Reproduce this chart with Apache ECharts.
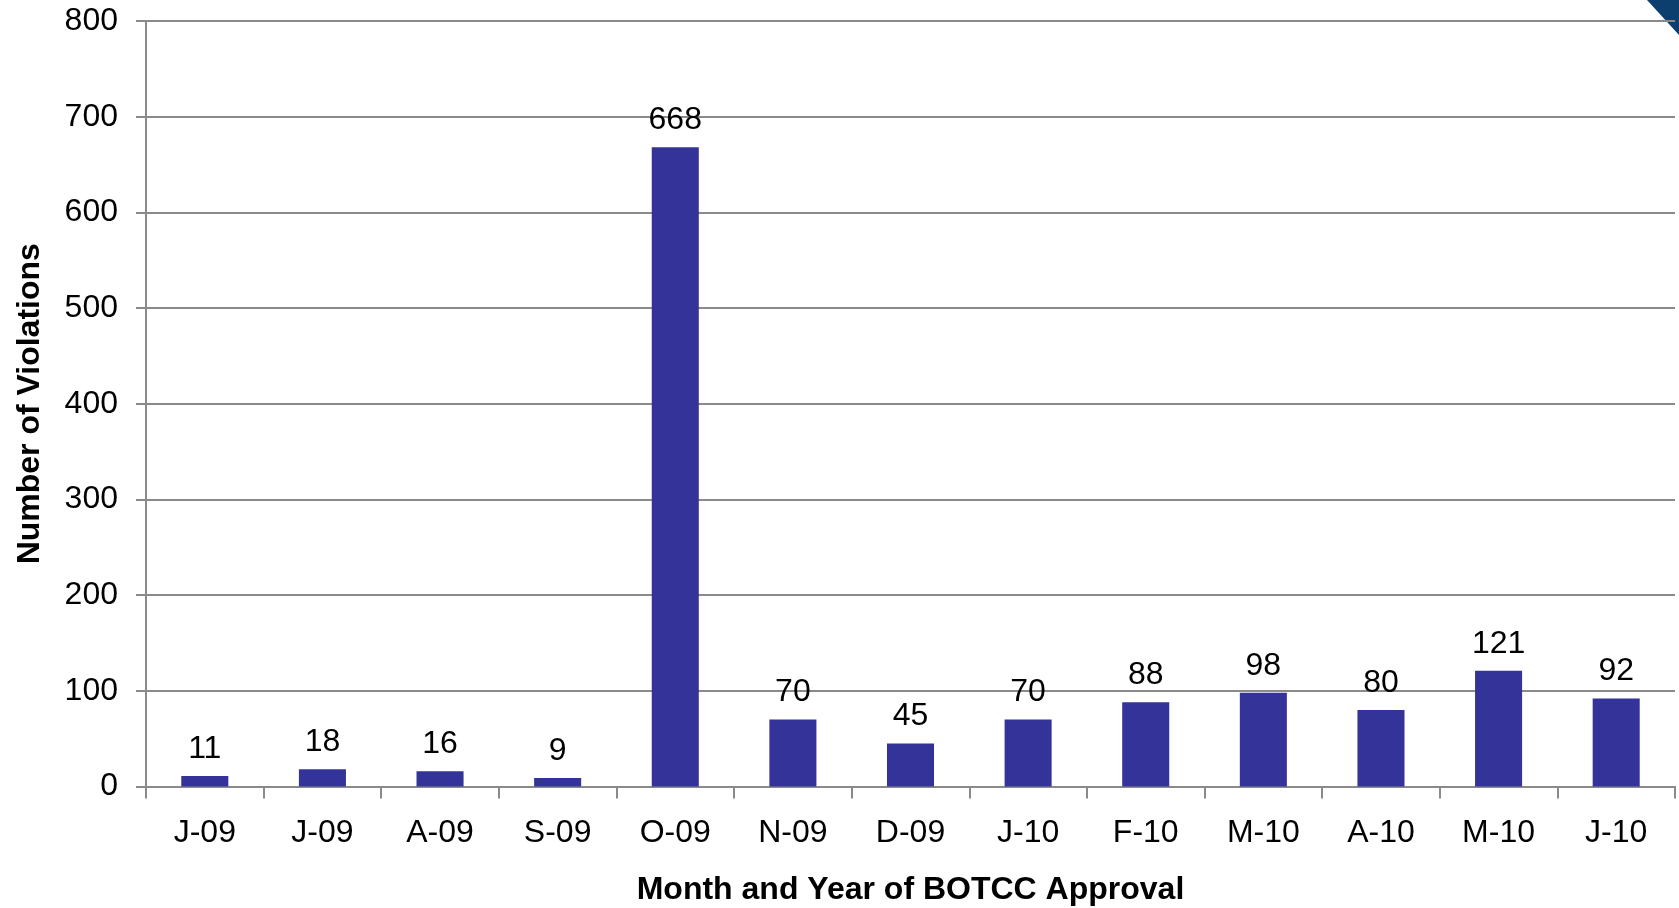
<!DOCTYPE html>
<html>
<head>
<meta charset="utf-8">
<script src="https://cdn.jsdelivr.net/npm/echarts@6/dist/echarts.min.js"></script>
<style>
html,body{margin:0;padding:0;background:#fff;}
#chart{width:1679px;height:908px;}
</style>
</head>
<body>
<div id="chart"></div>
<script>
const categories = ['J-09','J-09','A-09','S-09','O-09','N-09','D-09','J-10','F-10','M-10','A-10','M-10','J-10'];
const violations = [11,18,16,9,668,70,45,70,88,98,80,121,92];
const yTicks = {min:0, max:800, interval:100};
const xTitle = 'Month and Year of BOTCC Approval';
const yTitle = 'Number of Violations';

const font = 'Liberation Sans, Arial, sans-serif';
const gray = '#8a8a8a';
const chart = echarts.init(document.getElementById('chart'));
chart.setOption({
  animation:false,
  backgroundColor:'#fff',
  grid:{left:146, right:4, top:21, bottom:121.5, containLabel:false, outerBoundsMode:'none'},
  graphic:[{
    type:'polygon',
    shape:{points:[[1647,0],[1679,0],[1679,35]]},
    style:{fill:'#0d3f6e'}
  }],
  xAxis:{
    type:'category',
    data:categories,
    boundaryGap:true,
    axisLine:{lineStyle:{color:gray,width:2}},
    axisTick:{show:true,alignWithLabel:false,length:12,lineStyle:{color:gray,width:2}},
    axisLabel:{color:'#000',fontSize:32,fontFamily:font,margin:31,interval:0},
    name:xTitle,
    nameLocation:'middle',
    nameGap:88,
    nameTextStyle:{color:'#000',fontSize:32,fontWeight:'bold',fontFamily:font}
  },
  yAxis:{
    type:'value',
    min:yTicks.min, max:yTicks.max, interval:yTicks.interval,
    axisLine:{show:true,lineStyle:{color:gray,width:2}},
    axisTick:{show:true,length:10,lineStyle:{color:gray,width:2}},
    axisLabel:{color:'#000',fontSize:32,fontFamily:font,margin:28},
    splitLine:{show:true,lineStyle:{color:gray,width:2}},
    name:yTitle,
    nameLocation:'middle',
    nameGap:100,
    nameTextStyle:{color:'#000',fontSize:32,fontWeight:'bold',fontFamily:font}
  },
  series:[{
    type:'bar',
    data:violations,
    barWidth:'40%',
    itemStyle:{color:'#333399'},
    label:{show:true,position:'top',distance:11,color:'#000',fontSize:32,fontFamily:font}
  }]
});
</script>
</body>
</html>
